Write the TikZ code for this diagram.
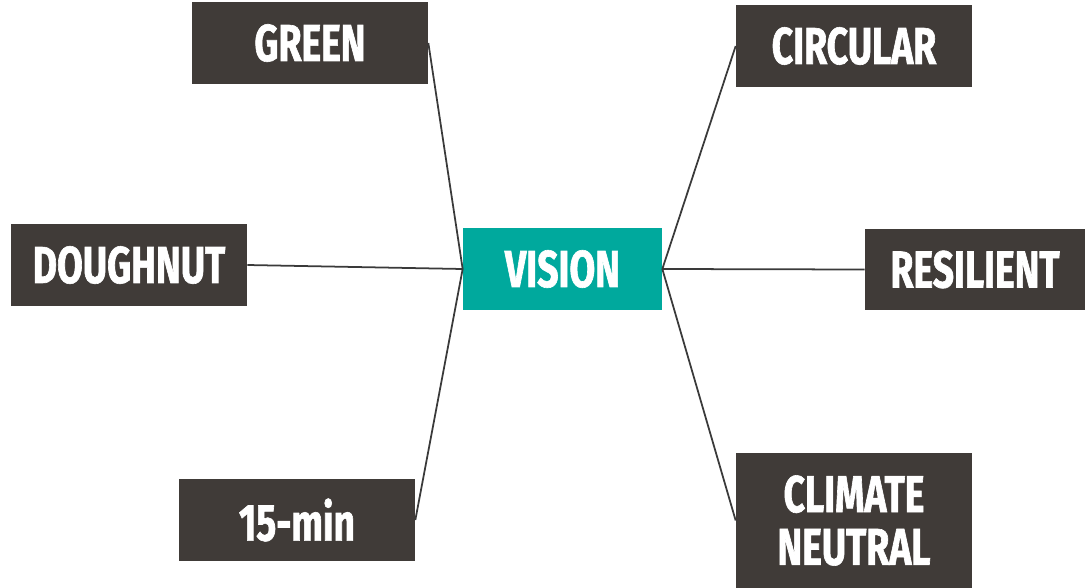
\documentclass[tikz,border=0pt]{standalone}
\usepackage{fontspec}
\setmainfont{Fira Sans}[FakeStretch=0.72, BoldFeatures={FakeBold=1.2}]
\usepackage{xcolor}
\definecolor{boxgray}{HTML}{403B38}
\definecolor{visionteal}{HTML}{00A99D}
\definecolor{linegray}{HTML}{3A3A3A}
\tikzset{box/.style={fill=boxgray, text=white, inner sep=0pt, minimum width=4.72cm, minimum height=1.64cm, align=center, font=\fontsize{29.5}{30}\selectfont\bfseries}}
\tikzset{link/.style={draw=linegray, line width=1pt}}

\begin{document}
\begin{tikzpicture}[x=0.02cm, y=-0.02cm]
    \useasboundingbox (0, 0) rectangle (1085, 588);
    \node[box, fill=visionteal, minimum width=3.98cm] at (562.5, 269) (vision) {VISION};
    \node[box] at (310, 43) (green) {GREEN};
    \node[box] at (129, 265) (doughnut) {DOUGHNUT};
    \node[box] at (297, 520) (fifteen) {15-min};
    \node[box] at (854, 46) (circular) {CIRCULAR};
    \node[box, minimum width=4.4cm] at (975, 269.5) (resilient) {RESILIENT};
    \node[box, minimum height=2.7cm] at (854, 520.5) (climate) {CLIMATE\\NEUTRAL};

    % links left
    \draw[link] (green.east) -- (vision.west);
    \draw[link] (doughnut.east) -- (vision.west);
    \draw[link] (fifteen.east) -- (vision.west);
    % links right
    \draw[link] (circular.west) -- (vision.east);
    \draw[link] (resilient.west) -- (vision.east);
    \draw[link] (climate.west) -- (vision.east);
\end{tikzpicture}
\end{document}
